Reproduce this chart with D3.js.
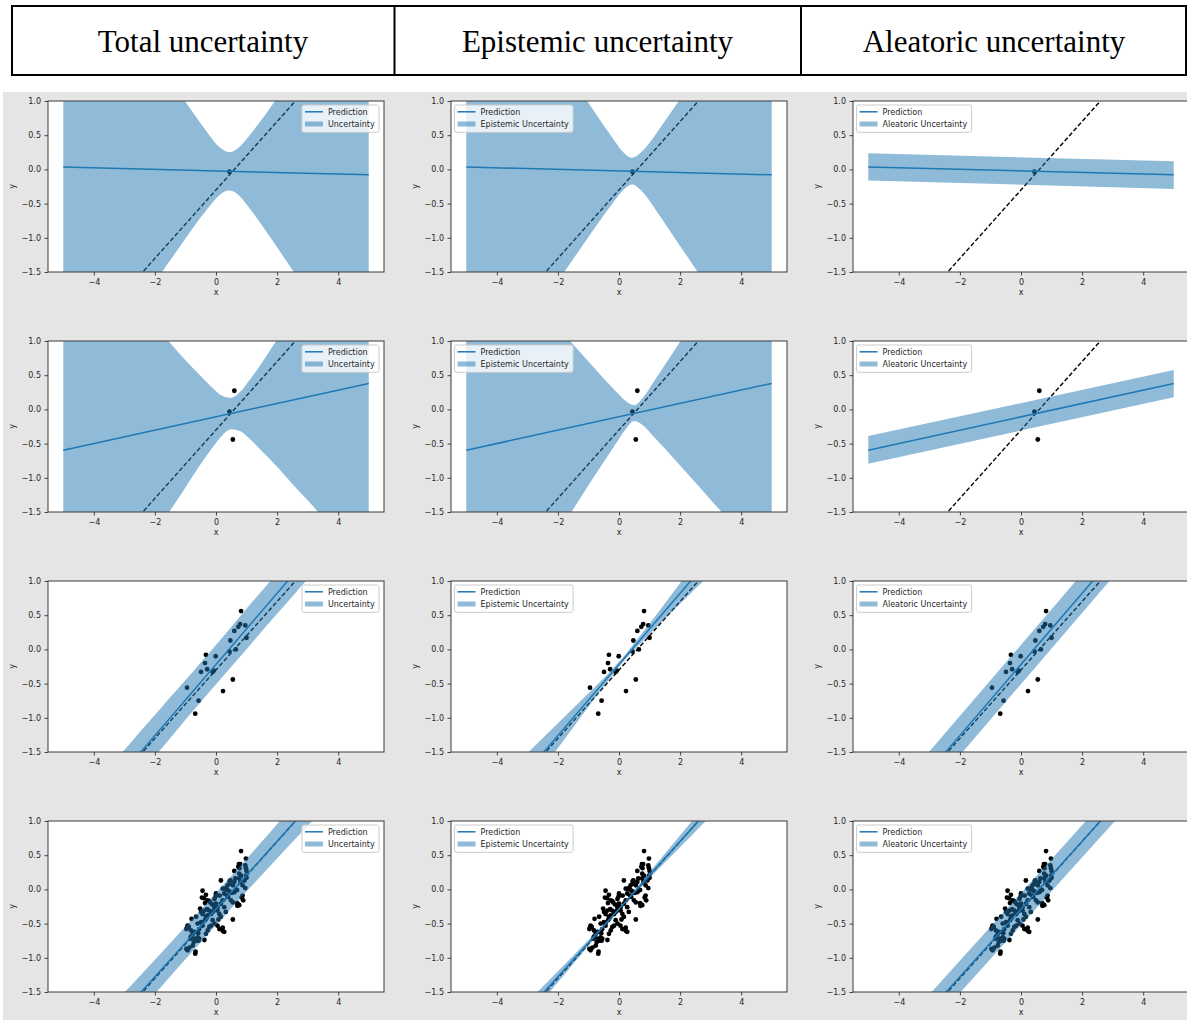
<!DOCTYPE html>
<html><head><meta charset="utf-8">
<script src="https://cdn.jsdelivr.net/npm/d3@7"></script>
<style>
html,body{margin:0;padding:0;background:#fff;}
svg{display:block;}
</style></head>
<body>
<svg id="chart" width="1187" height="1020"></svg>
<script>
// ---------------- data ----------------
const columnTitles = ["Total uncertainty", "Epistemic uncertainty", "Aleatoric uncertainty"];
const legendLineLabel = "Prediction";
const legendBandLabels = ["Uncertainty", "Epistemic Uncertainty", "Aleatoric Uncertainty"];
const xTicks = [-4, -2, 0, 2, 4];
const yTicks = [-1.5, -1.0, -0.5, 0.0, 0.5, 1.0];
const xDomain = [-5.5, 5.5];
const yDomain = [-1.5, 1.0];

// true function (dashed)
const truthX = [-5, 5];
const truthY = [-2.8, 2.2];

// prediction lines (per row)
const predX = [-5, 5];
const predY0 = [0.035, -0.08];
const predY1 = [-0.596, 0.38];
const predY2 = [-2.82, 2.38];
const predY3 = [-2.762, 2.188];

// row 0 bands
const bandX0 = [-5,-4,-3,-2,-1.5,-1,-0.5,-0.2,0.1,0.43,0.75,1.05,1.35,1.85,2.35,3,4,5];
const totalHi0 = [3.69,3.01,2.33,1.65,1.32,0.99,0.67,0.49,0.33,0.25,0.32,0.47,0.64,0.95,1.27,1.69,2.34,3.00];
const totalLo0 = [-3.62,-2.96,-2.31,-1.65,-1.33,-1.01,-0.70,-0.53,-0.38,-0.31,-0.38,-0.54,-0.72,-1.04,-1.37,-1.80,-2.48,-3.16];
const epiHi0 = [3.68,3.00,2.32,1.64,1.30,0.97,0.64,0.45,0.27,0.17,0.26,0.42,0.61,0.93,1.25,1.68,2.33,2.99];
const epiLo0 = [-3.61,-2.95,-2.30,-1.64,-1.31,-0.99,-0.67,-0.49,-0.32,-0.22,-0.32,-0.49,-0.69,-1.02,-1.35,-1.79,-2.47,-3.15];

// row 1 bands
const bandX1 = [-5,-4,-3,-2,-1.5,-1,-0.5,-0.1,0.2,0.5,0.8,1.1,1.5,2,2.5,3,4,5];
const totalHi1 = [2.71,2.21,1.71,1.22,0.97,0.72,0.49,0.31,0.20,0.17,0.26,0.43,0.68,1.02,1.36,1.70,2.40,3.09];
const totalLo1 = [-3.90,-3.21,-2.51,-1.82,-1.48,-1.14,-0.80,-0.55,-0.38,-0.29,-0.32,-0.43,-0.61,-0.84,-1.09,-1.33,-1.83,-2.33];
const epiHi1 = [2.71,2.20,1.70,1.20,0.95,0.70,0.45,0.26,0.13,0.06,0.18,0.38,0.65,0.99,1.34,1.69,2.39,3.08];
const epiLo1 = [-3.90,-3.20,-2.50,-1.81,-1.46,-1.11,-0.77,-0.50,-0.30,-0.17,-0.24,-0.38,-0.57,-0.82,-1.07,-1.32,-1.82,-2.32];

// row 2 bands
const bandX2 = [-5,-4,-3,-2.5,-2,-1.5,-1,-0.5,0.16,0.8,1.3,1.8,2.3,2.8,3.5,5];
const totalHi2 = [-2.47,-1.97,-1.47,-1.21,-0.96,-0.70,-0.45,-0.19,0.15,0.49,0.75,1.01,1.28,1.54,1.92,2.73];
const totalLo2 = [-3.17,-2.63,-2.10,-1.83,-1.56,-1.30,-1.03,-0.77,-0.43,-0.10,0.16,0.42,0.67,0.93,1.28,2.04];
const epiHi2 = [-2.40,-1.96,-1.52,-1.30,-1.08,-0.86,-0.64,-0.42,-0.10,0.26,0.55,0.85,1.15,1.45,1.87,2.77];
const epiLo2 = [-3.24,-2.64,-2.04,-1.74,-1.44,-1.14,-0.84,-0.54,-0.17,0.13,0.36,0.58,0.80,1.02,1.33,1.99];

// row 3 bands
const bandX3 = [-5,-4,-3,-2.5,-2,-1.5,-1,-0.5,-0.05,0.4,0.9,1.4,1.9,2.4,2.9,3.5,5];
const totalHi3 = [-2.451,-1.981,-1.507,-1.269,-1.028,-0.787,-0.543,-0.299,-0.077,0.147,0.398,0.649,0.903,1.157,1.414,1.723,2.502];
const totalLo3 = [-3.074,-2.553,-2.037,-1.781,-1.526,-1.273,-1.021,-0.771,-0.547,-0.325,-0.080,0.163,0.405,0.645,0.884,1.169,1.874];
const epiHi3 = [-2.557,-2.104,-1.650,-1.423,-1.195,-0.969,-0.740,-0.512,-0.298,-0.066,0.201,0.467,0.736,1.003,1.271,1.593,2.397];
const epiLo3 = [-2.967,-2.431,-1.894,-1.627,-1.359,-1.091,-0.824,-0.558,-0.326,-0.112,0.117,0.345,0.572,0.799,1.027,1.299,1.979];

// aleatoric bands (straight)
const aleaX = [-5, 5];
const aleaHi0 = [0.235, 0.118];
const aleaLo0 = [-0.162, -0.285];
const aleaHi1 = [-0.39, 0.575];
const aleaLo1 = [-0.795, 0.178];
const aleaHi2 = [-2.533, 2.667];
const aleaLo2 = [-3.107, 2.093];
const aleaHi3 = [-2.527, 2.423];
const aleaLo3 = [-2.997, 1.953];

// observed points
const pointsX0 = [0.44];
const pointsY0 = [-0.034];
const pointsX1 = [0.44, 0.60, 0.55];
const pointsY1 = [-0.034, 0.273, -0.44];
const pointsX2 = [-0.95,-0.68,-0.57,-0.49,-0.36,-0.33,-0.29,-0.11,-0.07,-0.01,0.23,0.47,0.44,0.55,0.60,0.65,0.73,0.79,0.82,0.96,1.00];
const pointsY2 = [-0.56,-0.94,-0.75,-0.33,-0.20,-0.08,-0.29,-0.33,-0.31,-0.10,-0.61,0.13,-0.03,-0.44,0.27,0.00,0.33,0.37,0.56,0.35,0.17];
const pointsX3 = [-0.95,-0.68,-0.57,-0.49,-0.36,-0.33,-0.29,-0.11,-0.07,-0.01,0.23,0.47,0.44,0.55,0.60,0.65,0.73,0.79,0.82,0.96,1.00,
  0.98,0.75,0.77,0.98,1.00,0.45,0.16,0.82,0.76,0.80,0.93,0.87,0.96,0.29,0.34,0.38,0.60,0.69,0.69,0.73,0.76,0.70,0.49,0.55,0.40,0.36,
  0.22,0.16,0.27,0.05,0.11,0.16,-0.05,0.00,-0.44,-0.46,-0.39,-0.27,-0.22,-0.19,-0.44,-0.38,-0.33,-0.27,-0.36,-0.22,-0.16,-0.11,-0.05,
  -0.16,-0.22,-0.27,-0.33,-0.38,0.05,0.11,0.16,0.22,0.27,-0.80,-0.65,-0.93,-0.97,-0.89,-0.82,-0.76,-0.71,-0.60,-0.55,-0.58,-0.97,-0.93,
  -0.87,-0.76,-0.73,-0.65,-0.67,-0.60,-0.55,-0.84,-0.82,-0.44,-0.49,0.00,0.05,-0.05,0.27,0.22,0.44,0.38,0.55,0.60,0.87,0.84,0.89,0.76,
  0.98,0.12,-0.13,0.32,0.52,-0.70,0.63,-0.52,0.08];
const pointsY3 = [-0.56,-0.94,-0.75,-0.33,-0.20,-0.08,-0.29,-0.33,-0.31,-0.10,-0.61,0.13,-0.03,-0.44,0.27,0.00,0.33,0.37,0.56,0.35,0.17,
  0.45,0.37,0.31,0.31,0.27,0.12,0.13,0.20,0.16,0.11,0.13,0.06,0.02,0.01,0.02,-0.01,-0.04,-0.01,-0.20,-0.22,-0.23,-0.24,-0.16,-0.19,-0.11,-0.09,
  -0.16,-0.21,-0.26,-0.31,-0.36,-0.40,-0.14,-0.06,-0.02,-0.12,-0.13,-0.16,-0.17,-0.19,-0.36,-0.31,-0.40,-0.38,-0.45,-0.31,-0.36,-0.45,-0.50,
  -0.53,-0.55,-0.60,-0.65,-0.74,-0.53,-0.58,-0.58,-0.56,-0.62,-0.43,-0.40,-0.53,-0.58,-0.55,-0.60,-0.65,-0.62,-0.50,-0.58,-0.64,-0.87,-0.89,
  -0.85,-0.82,-0.77,-0.75,-0.91,-0.70,-0.72,-0.72,-0.69,-0.53,-0.48,-0.21,-0.26,-0.26,-0.06,0.01,0.08,0.06,0.06,0.11,-0.09,-0.12,-0.16,0.23,
  0.20,-0.09,-0.22,-0.33,-0.05,-0.72,0.16,-0.28,-0.44];

// ---------------- build panel table ----------------
const rowsData = [
  {predY: predY0, px: pointsX0, py: pointsY0, bands: [[bandX0, totalLo0, totalHi0], [bandX0, epiLo0, epiHi0], [aleaX, aleaLo0, aleaHi0]]},
  {predY: predY1, px: pointsX1, py: pointsY1, bands: [[bandX1, totalLo1, totalHi1], [bandX1, epiLo1, epiHi1], [aleaX, aleaLo1, aleaHi1]]},
  {predY: predY2, px: pointsX2, py: pointsY2, bands: [[bandX2, totalLo2, totalHi2], [bandX2, epiLo2, epiHi2], [aleaX, aleaLo2, aleaHi2]]},
  {predY: predY3, px: pointsX3, py: pointsY3, bands: [[bandX3, totalLo3, totalHi3], [bandX3, epiLo3, epiHi3], [aleaX, aleaLo3, aleaHi3]]}
];

// ---------------- layout ----------------
const svg = d3.select("#chart");
const C0 = "#1f77b4";
const colLeft = [48, 451, 853];
const rowTop = [101, 341, 581, 821];
const W = 336, H = 171;

svg.append("rect").attr("width", 1187).attr("height", 1020).attr("fill", "#fff");

// header table
const header = svg.append("g");
header.append("rect").attr("x", 12).attr("y", 6).attr("width", 1174).attr("height", 69)
  .attr("fill", "none").attr("stroke", "#000").attr("stroke-width", 2);
[394.5, 801].forEach(xv => header.append("line").attr("x1", xv).attr("x2", xv).attr("y1", 6).attr("y2", 75)
  .attr("stroke", "#000").attr("stroke-width", 2));
const cellCenters = [203, 597.5, 994];
columnTitles.forEach((t, i) => header.append("text").attr("x", cellCenters[i]).attr("y", 52)
  .attr("text-anchor", "middle").attr("font-family", "'Liberation Serif','Times New Roman',serif")
  .attr("font-size", 31).attr("fill", "#000").text(t));

// gray figure background
svg.append("rect").attr("x", 3).attr("y", 92).attr("width", 1184).attr("height", 928).attr("fill", "#e5e5e5");

const x = d3.scaleLinear().domain(xDomain).range([0, W]);
const y = d3.scaleLinear().domain(yDomain).range([H, 0]);
const lineGen = d3.line().x(d => x(d[0])).y(d => y(d[1]));
const areaGen = d3.area().x(d => x(d[0])).y0(d => y(d[1])).y1(d => y(d[2])).curve(d3.curveMonotoneX);
const font = "'DejaVu Sans', sans-serif";

rowsData.forEach((row, r) => {
  for (let c = 0; c < 3; c++) {
    const g = svg.append("g").attr("transform", `translate(${colLeft[c]},${rowTop[r]})`);
    g.append("rect").attr("width", W).attr("height", H).attr("fill", "#fff");
    const cid = `clip-${r}-${c}`;
    g.append("clipPath").attr("id", cid).append("rect").attr("width", W).attr("height", H);
    const plot = g.append("g").attr("clip-path", `url(#${cid})`);

    // observed points
    plot.selectAll("circle").data(row.px.map((v, i) => [v, row.py[i]])).join("circle")
      .attr("cx", d => x(d[0])).attr("cy", d => y(d[1])).attr("r", 2.4).attr("fill", "#000");
    // true line
    plot.append("path").datum(truthX.map((v, i) => [v, truthY[i]])).attr("d", lineGen)
      .attr("fill", "none").attr("stroke", "#000").attr("stroke-width", 1.4).attr("stroke-dasharray", "4.5,2.2");
    // prediction
    plot.append("path").datum(predX.map((v, i) => [v, row.predY[i]])).attr("d", lineGen)
      .attr("fill", "none").attr("stroke", C0).attr("stroke-width", 1.5);
    // band
    const b = row.bands[c];
    plot.append("path").datum(b[0].map((v, i) => [v, b[1][i], b[2][i]])).attr("d", areaGen)
      .attr("fill", C0).attr("fill-opacity", 0.5);

    // axes
    const xa = g.append("g").attr("transform", `translate(0,${H})`)
      .call(d3.axisBottom(x).tickValues(xTicks).tickFormat(d3.format("d")).tickSizeInner(3.5).tickSizeOuter(0).tickPadding(3.5));
    const ya = g.append("g")
      .call(d3.axisLeft(y).tickValues(yTicks).tickFormat(d3.format(".1f")).tickSizeInner(3.5).tickSizeOuter(0).tickPadding(3.5));
    [xa, ya].forEach(a => {
      a.select(".domain").remove();
      a.selectAll(".tick line").attr("stroke", "#333").attr("stroke-width", 0.9);
      a.selectAll(".tick text").attr("font-family", font).attr("font-size", 8).attr("fill", "#262626");
    });
    g.append("rect").attr("width", W).attr("height", H).attr("fill", "none").attr("stroke", "#3a3a3a").attr("stroke-width", 1);

    g.append("text").attr("x", W / 2).attr("y", H + 23).attr("text-anchor", "middle")
      .attr("font-family", font).attr("font-size", 8).attr("fill", "#262626").text("x");
    g.append("text").attr("transform", `translate(-33,${H / 2}) rotate(-90)`).attr("text-anchor", "middle")
      .attr("font-family", font).attr("font-size", 8).attr("fill", "#262626").text("y");

    // legend
    const lg = g.append("g");
    const box = lg.append("rect").attr("fill", "#fff").attr("fill-opacity", 0.8)
      .attr("stroke", "#cccccc").attr("stroke-width", 1).attr("rx", 2);
    const t1 = lg.append("text").attr("font-family", font).attr("font-size", 8).attr("fill", "#262626").text(legendLineLabel);
    const t2 = lg.append("text").attr("font-family", font).attr("font-size", 8).attr("fill", "#262626").text(legendBandLabels[c]);
    const tw = Math.max(t1.node().getComputedTextLength(), t2.node().getComputedTextLength());
    const bw = 26 + tw + 4.3, bh = 27.3;
    const bx = c === 0 ? W - 5 - bw : 3.5, by = 4;
    box.attr("x", bx).attr("y", by).attr("width", bw).attr("height", bh);
    t1.attr("x", bx + 26).attr("y", by + 10.2);
    t2.attr("x", bx + 26).attr("y", by + 22.3);
    lg.append("line").attr("x1", bx + 3).attr("x2", bx + 21).attr("y1", by + 6.8).attr("y2", by + 6.8)
      .attr("stroke", C0).attr("stroke-width", 1.5);
    lg.append("rect").attr("x", bx + 3).attr("y", by + 16.5).attr("width", 18).attr("height", 5)
      .attr("fill", C0).attr("fill-opacity", 0.5);
  }
});
</script>
</body></html>
